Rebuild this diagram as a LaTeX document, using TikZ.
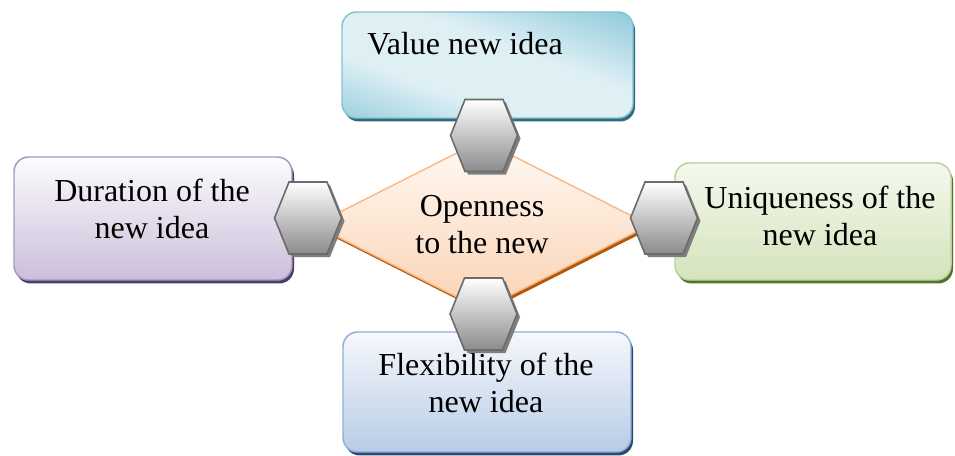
\documentclass[tikz,border=0pt]{standalone}
\usepackage{fontspec}
\setmainfont{Liberation Serif}
\usetikzlibrary{shapes.geometric,shadows}

% palette
\definecolor{tealDark}{HTML}{8FCADA}
\definecolor{tealLight}{HTML}{DFF0F5}
\definecolor{tealLine}{HTML}{86C2D3}
\definecolor{tealShadow}{HTML}{2F6C7B}
\definecolor{lilacTop}{HTML}{FCFBFD}
\definecolor{lilacBottom}{HTML}{CBBFDA}
\definecolor{lilacLine}{HTML}{A996C2}
\definecolor{lilacShadow}{HTML}{4D3D66}
\definecolor{leafTop}{HTML}{F5F9EE}
\definecolor{leafBottom}{HTML}{D4E3BC}
\definecolor{leafLine}{HTML}{B9D295}
\definecolor{leafShadow}{HTML}{56702E}
\definecolor{skyTop}{HTML}{F6F8FC}
\definecolor{skyBottom}{HTML}{B8CCE6}
\definecolor{skyLine}{HTML}{8EAEDB}
\definecolor{skyShadow}{HTML}{2C4770}
\definecolor{peachTop}{HTML}{FFFAF6}
\definecolor{peachBottom}{HTML}{FBD2B2}
\definecolor{peachLine}{HTML}{F9B886}
\definecolor{peachShadow}{HTML}{B05A0C}
\definecolor{hexGrey}{HTML}{8B8B8B}
\definecolor{hexLine}{HTML}{6B6B6B}
\definecolor{hexShadow}{HTML}{7E7E7E}

% diagonal sweep for the teal card: pale band between two darker corners
\pgfdeclareverticalshading{tealsweep}{100bp}{%
  color(0bp)=(tealDark!85!tealLight); color(25bp)=(tealDark!85!tealLight);
  color(40bp)=(tealLight); color(56bp)=(tealLight);
  color(75bp)=(tealDark); color(100bp)=(tealDark)}

\tikzset{
  card/.style={rounded corners=11pt, line width=1.1pt, inner sep=0pt},
  cardshadow/.style={drop shadow={shadow xshift=1.5pt, shadow yshift=-2.6pt,
      shadow scale=1, fill=#1, opacity=1}},
  txt/.style={font=\fontsize{24}{27.75}\selectfont, align=center, inner sep=0pt},
  hexa/.pic={
    \fill[hexShadow] (-30.5,3) -- (-16,-33) -- (22,-33) -- (36.5,3)
                     -- (22,39) -- (-16,39) -- cycle;
    \draw[line width=1.2pt, draw=hexLine, top color=white, bottom color=hexGrey]
      (-33.5,0) -- (-19,-36) -- (19,-36) -- (33.5,0)
      -- (19,36) -- (-19,36) -- cycle;
  }
}

\begin{document}
\begin{tikzpicture}[x=0.75pt, y=-0.75pt]
  \useasboundingbox (0,0) rectangle (955,456);

  % outer cards
  \node[card, cardshadow=tealShadow, draw=tealLine, fill=tealLight,
        minimum width=218.25pt, minimum height=79.5pt,
        path picture={
          \shade[draw=none, shading=tealsweep,
                 transform canvas={rotate around={-20:(path picture bounding box.center)}}]
            ([shift={(-170,-100)}]path picture bounding box.center)
            rectangle ([shift={(170,100)}]path picture bounding box.center);}]
        (value) at (487.5,65) {};
  \node[card, cardshadow=lilacShadow, draw=lilacLine,
        top color=lilacTop, bottom color=lilacBottom,
        minimum width=208.5pt, minimum height=92.25pt]
        (duration) at (153,218.5) {};
  \node[card, cardshadow=leafShadow, draw=leafLine,
        top color=leafTop, bottom color=leafBottom,
        minimum width=207pt, minimum height=87.75pt]
        (unique) at (813,221.5) {};
  \node[card, cardshadow=skyShadow, draw=skyLine,
        top color=skyTop, bottom color=skyBottom,
        minimum width=216pt, minimum height=90pt]
        (flex) at (487,392) {};

  % card labels
  \node[txt, anchor=base] (valueText) at (465,55) {Value new idea};
  \node[txt] (durationText) at (152,208.5) {Duration of the\\new idea};
  \node[txt] (uniqueText) at (820,215.5) {Uniqueness of the\\new idea};
  \node[txt] (flexText) at (486,382.5) {Flexibility of the\\new idea};

  % central diamond
  \node[diamond, shape aspect=2, inner sep=0pt, line width=1.1pt,
        minimum width=252pt, minimum height=127.5pt,
        draw=peachLine, top color=peachTop, bottom color=peachBottom,
        drop shadow={shadow xshift=1.5pt, shadow yshift=-2.4pt, shadow scale=1,
                     fill=peachShadow, opacity=1},
        txt] (open) at (482,225) {Openness\\to the new};

  % hexagonal joints
  \pic (hexTop) at (484,135.5) {hexa};
  \pic (hexLeft) at (308,218) {hexa};
  \pic (hexRight) at (664,218) {hexa};
  \pic (hexBottom) at (483.5,314) {hexa};
\end{tikzpicture}
\end{document}
